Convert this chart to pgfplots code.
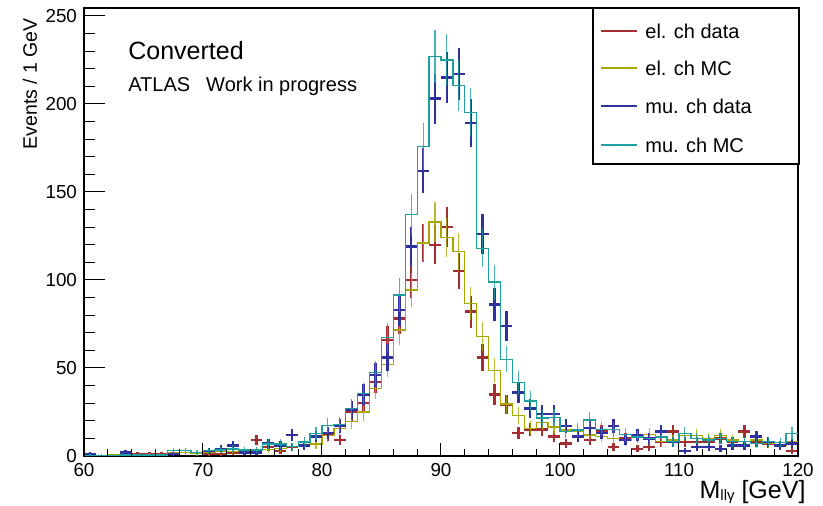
\documentclass[border=0pt]{standalone}
\usepackage{pgfplots}
\pgfplotsset{compat=1.18}
\usepackage{pgfplotstable}
\usepackage{fontspec}
\setmainfont{Liberation Sans}

\definecolor{eldata}{RGB}{163,45,48}
\definecolor{elmc}{RGB}{168,168,0}
\definecolor{mudata}{RGB}{48,48,158}
\definecolor{mumc}{RGB}{30,160,160}

% bin centre, el. data, el. MC, mu. data, mu. MC (1 GeV bins)
\pgfplotstableread{
x eld elm mud mum
60.5 0 0.3 1 0.3
61.5 0 0.3 0 0.3
62.5 0 0.5 0 0.3
63.5 0 0.5 2 0.5
64.5 1 0.5 0 0.5
65.5 1 0.7 0 0.5
66.5 1 0.8 0 0.6
67.5 0 2 1 3
68.5 0 2 0 3
69.5 0 1.5 0 2
70.5 1 2 3 3
71.5 1 2.5 4 3.4
72.5 2 2.5 6 4
73.5 0 2.5 2 3.4
74.5 9 3.4 2 3.4
75.5 5 3.5 7 6.8
76.5 3 4.4 6 6.8
77.5 5 5.3 12 5.3
78.5 6 7.5 6 8
79.5 11 6.8 11 12.9
80.5 12 11.5 13 17.4
81.5 9 15.7 17 18
82.5 25 19.5 26 27
83.5 30 25 35 35.6
84.5 42 38.5 46 47.3
85.5 66 52 56 67.4
86.5 78 71.6 83 91.5
87.5 100 94.3 119 137
88.5 121 121 162 176
89.5 120 133 203 227
90.5 130 124 215 225
91.5 105 116 217 210.6
92.5 82 86.5 189 195
93.5 56 67.8 126 118
94.5 35 48.5 86 98.8
95.5 29 29.5 74 55
96.5 13 23 36 41.6
97.5 15 15.7 27 31.2
98.5 15 19 24 21.5
99.5 11 16.5 24 22
100.5 7 14.8 17 13.8
101.5 11 13.8 11 14.8
102.5 9 12 16 20.5
103.5 14 11 13 15.2
104.5 5 10 17 15
105.5 10 8.7 9 12.3
106.5 4 11 12 10.8
107.5 5 12.3 10 10
108.5 8 8.1 14 10.8
109.5 14 9 8 8.1
110.5 8 11.8 3 12.7
111.5 8 11.8 5 10
112.5 8 10 5 9
113.5 10 11.8 4 10
114.5 8 9 6 8.1
115.5 14 8.1 6 8.1
116.5 8 9 11 7.2
117.5 7 7.2 8 8.1
118.5 6 6.2 6 7.6
119.5 3 8.1 7 12.7
120.5 0 8.1 0 12.7
}\hist

\pgfplotsset{
  datapts/.style={draw=none, mark=none, forget plot,
    restrict y to domain=0.5:400,
    error bars/.cd, x dir=both, x fixed=0.5, y dir=both, y explicit,
    error mark=none, error bar style={line width=1.2pt, draw=#1}},
  mcstep/.style={draw=#1, line width=0.65pt, const plot mark left, forget plot},
  mcerr/.style={draw=none, mark=none, forget plot,
    error bars/.cd, y dir=both, y explicit,
    error mark=none, error bar style={line width=0.55pt, draw=#1, opacity=0.8}},
}

\begin{document}
\begin{tikzpicture}
\useasboundingbox (-42pt,-25pt) rectangle (369.5pt,228pt);
\begin{axis}[
  at={(0,0)}, anchor=south west,
  scale only axis, width=357pt, height=224pt,
  xmin=60, xmax=120, ymin=0, ymax=254.5,
  xtick=\empty, ytick={0,50,...,250},
  minor y tick num=4,
  tick pos=left, tick align=inside,
  major tick length=10.5pt, minor tick length=5.25pt,
  tick style={black, line width=0.5pt},
  axis line style={line width=0.6pt},
  /pgf/number format/assume math mode=true,
  ticklabel style={font=\fontsize{9.4}{10}\selectfont},
  xlabel={M\raisebox{-1.3pt}{\fontsize{7.5}{8}\selectfont llγ} [GeV]},
  xlabel style={at={(axis description cs:1.011,-0.094)}, anchor=base east,
    inner sep=0pt, font=\fontsize{12.5}{15}\selectfont},
  ylabel={Events / 1 GeV},
  ylabel style={at={(axis description cs:-0.066,0.978)}, anchor=base east,
    inner sep=0pt, font=\fontsize{9.75}{11}\selectfont},
]
% electron channel
\addplot[datapts=eldata] table[x=x, y=eld, y error expr=sqrt(\thisrow{eld})] {\hist};
\addplot[mcstep=elmc] table[x expr=\thisrow{x}-0.5, y=elm] {\hist};
\addplot[mcerr=elmc] table[x=x, y=elm, y error expr=sqrt(\thisrow{elm})] {\hist};
% muon channel
\addplot[datapts=mudata] table[x=x, y=mud, y error expr=sqrt(\thisrow{mud})] {\hist};
\addplot[mcstep=mumc] table[x expr=\thisrow{x}-0.5, y=mum] {\hist};
\addplot[mcerr=mumc] table[x=x, y=mum, y error expr=sqrt(\thisrow{mum})] {\hist};

\node[anchor=west, inner sep=0pt, font=\fontsize{12.5}{14}\selectfont]
  at (rel axis cs:0.0616,0.906) {Converted};
\node[anchor=west, inner sep=0pt, font=\fontsize{10}{12}\selectfont]
  at (rel axis cs:0.0616,0.826) {ATLAS\hspace{8pt}Work in progress};
\end{axis}

% x axis: ticks shorter than on y, with the tick labels
\begin{axis}[
  at={(0,0)}, anchor=south west,
  scale only axis, width=357pt, height=224pt,
  xmin=60, xmax=120, ymin=0, ymax=254.5,
  xtick={60,70,...,120}, minor x tick num=4,
  ytick=\empty,
  tick pos=left, tick align=inside,
  major tick length=6.5pt, minor tick length=3.5pt,
  tick style={black, line width=0.5pt},
  axis line style={draw=none},
  /pgf/number format/assume math mode=true,
  ticklabel style={font=\fontsize{9.4}{10}\selectfont},
]
\end{axis}

% legend box (axis box runs from (0,0) to (357pt,224pt))
\draw[line width=0.6pt, fill=white] (254.5pt,146pt) rectangle (357.5pt,224pt);
\begin{scope}[every node/.style={anchor=west, inner sep=0pt,
    font=\fontsize{10}{12}\selectfont}]
  \draw[eldata, line width=1.2pt] (258.5pt,212.5pt) -- (276.5pt,212.5pt);
  \node at (280.5pt,212.5pt) {el. ch data};
  \draw[elmc, line width=0.65pt] (258.5pt,194pt) -- (276.5pt,194pt);
  \node at (280.5pt,194pt) {el. ch MC};
  \draw[mudata, line width=1.2pt] (258.5pt,175pt) -- (276.5pt,175pt);
  \node at (280.5pt,175pt) {mu. ch data};
  \draw[mumc, line width=0.65pt] (258.5pt,155.5pt) -- (276.5pt,155.5pt);
  \node at (280.5pt,155.5pt) {mu. ch MC};
\end{scope}
\end{tikzpicture}
\end{document}
